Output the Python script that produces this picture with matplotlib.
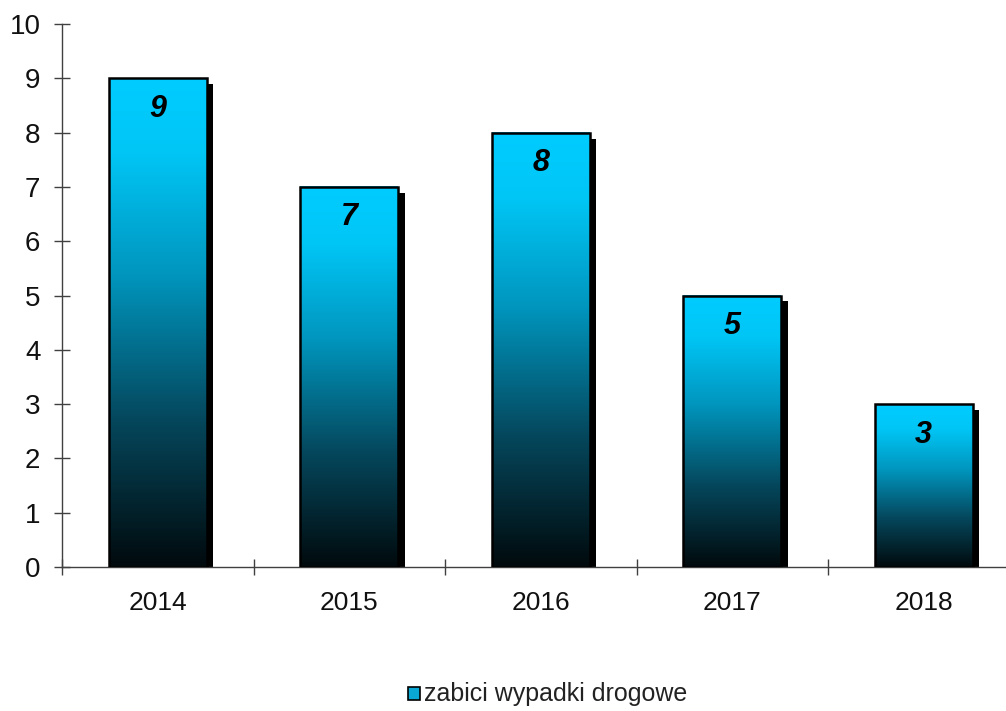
import matplotlib

matplotlib.use("Agg")
import matplotlib.pyplot as plt
import numpy as np
from matplotlib.colors import LinearSegmentedColormap
from matplotlib.patches import Rectangle

plt.rcParams["font.family"] = ["Liberation Sans", "DejaVu Sans"]

years = ["2014", "2015", "2016", "2017", "2018"]
killed = [9, 7, 8, 5, 3]
series_name = "zabici wypadki drogowe"

BAR_W = 0.51
SH_DX = 0.034  # shadow offset (category units)
SH_DY = 0.11  # shadow offset (value units)
AX_COL = "#404040"

cmap = LinearSegmentedColormap.from_list(
    "cyan_black",
    [(0.0, "#010a0d"), (0.3, "#05475c"), (0.6, "#0096be"), (0.85, "#00c6f6"), (1.0, "#00ccff")],
)
grad = np.linspace(0, 1, 256).reshape(-1, 1)

fig = plt.figure(figsize=(10.06, 7.11), dpi=100)
ax = fig.add_axes([62 / 1006, 1 - 567 / 711, 957.5 / 1006, 543 / 711])

for i, v in enumerate(killed):
    x0 = i + 0.5 - BAR_W / 2
    x1 = x0 + BAR_W
    ax.add_patch(
        Rectangle((x0 + SH_DX, 0), BAR_W, v - SH_DY, facecolor="black", edgecolor="none", zorder=1)
    )
    ax.imshow(grad, cmap=cmap, origin="lower", extent=(x0, x1, 0, v), aspect="auto", zorder=2)
    ax.add_patch(
        Rectangle((x0, 0), BAR_W, v, facecolor="none", edgecolor="black", lw=1.8, zorder=3)
    )
    ax.annotate(
        str(v),
        (i + 0.5, v),
        xytext=(0, -22),
        textcoords="offset points",
        ha="center",
        va="center",
        fontsize=22,
        fontweight="bold",
        fontstyle="italic",
        zorder=4,
    )

ax.set_xlim(0, len(years))
ax.set_ylim(0, 10)
ax.set_yticks(range(0, 11))
ax.set_xticks(np.arange(len(years) + 1))
ax.set_xticklabels([])
ax.set_xticks(np.arange(len(years)) + 0.5, minor=True)
ax.set_xticklabels(years, minor=True)
ax.tick_params(axis="x", which="minor", length=0, pad=17, labelsize=19, labelcolor="#111111")
ax.tick_params(axis="x", which="major", direction="inout", length=11, color=AX_COL, width=1)
ax.tick_params(axis="y", direction="inout", length=11, color=AX_COL, width=1, labelsize=20,
               pad=10, labelcolor="#111111")
for s in ["top", "right"]:
    ax.spines[s].set_visible(False)
for s in ["left", "bottom"]:
    ax.spines[s].set_color(AX_COL)
    ax.spines[s].set_linewidth(1)

# legend
fig.patches.append(
    Rectangle((408 / 1006, 1 - 700 / 711), 12 / 1006, 13 / 711, transform=fig.transFigure,
              facecolor="#0aa8d4", edgecolor="black", lw=1.2)
)
fig.text(424 / 1006, 1 - 694 / 711, series_name, ha="left", va="center", fontsize=18, color="#222222")

fig.savefig("out.png", dpi=100)
